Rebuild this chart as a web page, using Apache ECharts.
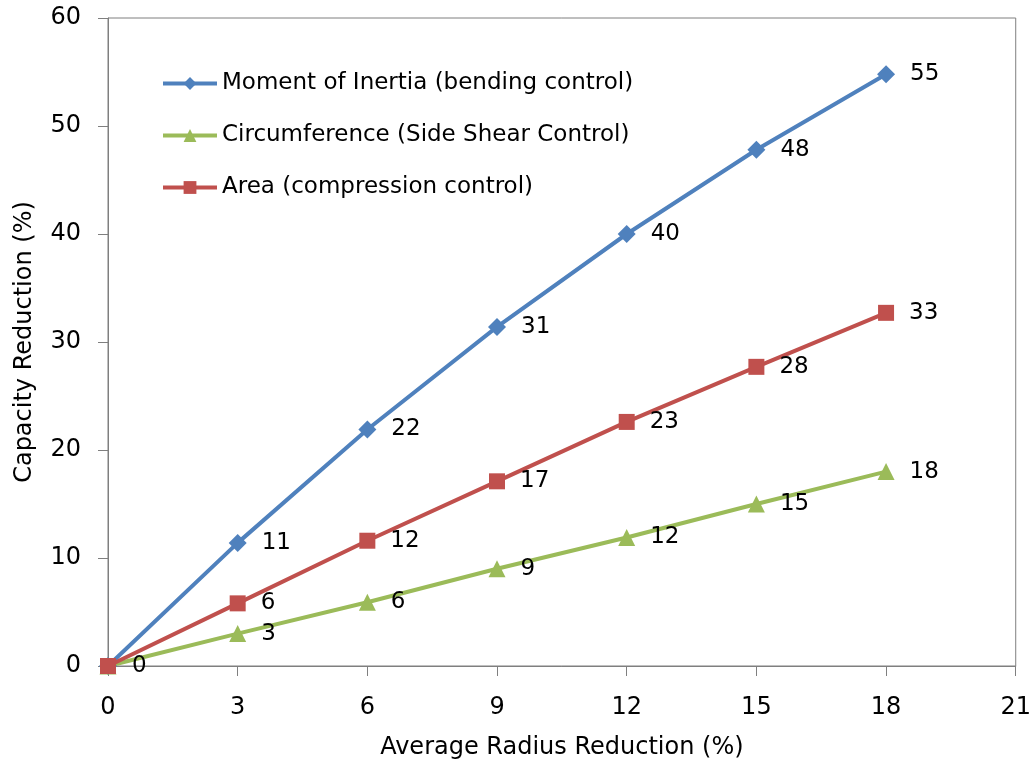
<!DOCTYPE html>
<html><head><meta charset="utf-8">
<script src="https://cdn.jsdelivr.net/npm/echarts@6/dist/echarts.min.js"></script>
<style>html,body{margin:0;padding:0;background:#fff}#c{width:1034px;height:765px}</style>
</head><body><div id="c"></div>
<script>
const xValues = [0, 3, 6, 9, 12, 15, 18];
const inertia = [0, 11.4, 21.9, 31.4, 40.0, 47.8, 54.8];
const circumference = [0, 3.0, 5.9, 9.0, 11.9, 15.0, 18.0];
const area = [0, 5.8, 11.6, 17.1, 22.6, 27.7, 32.7];
const seriesNames = ['Moment of Inertia (bending control)', 'Circumference (Side Shear Control)', 'Area (compression control)'];

const FONT = 'DejaVu Sans';
function pairs(ys){ return xValues.map((x,i)=>[x, ys[i]]); }
function mk(name, ys, color, symbol, size, labelAtZero){
  return {
    name, type:'line', data: pairs(ys), color,
    symbol, symbolSize: size,
    lineStyle:{width:4, color},
    itemStyle:{color},
    label:{show:true, position:'right', distance:15, color:'#000', fontFamily:FONT, fontSize:23,
      formatter: p => (p.value[0] === 0 && !labelAtZero) ? '' : String(Math.round(p.value[1]))},
    z: 3
  };
}
const chart = echarts.init(document.getElementById('c'));
chart.setOption({
  animation:false,
  textStyle:{fontFamily:FONT},
  grid:{left:108, right:18, top:18, bottom:98, show:true, borderColor:'#7f7f7f', borderWidth:1},
  legend:{
    orient:'vertical', left:156, top:67, itemWidth:54, itemHeight:16, itemGap:29,
    textStyle:{fontFamily:FONT, fontSize:23, color:'#000'},
    lineStyle:{width:4},
    data: seriesNames
  },
  xAxis:{type:'value', min:0, max:21, interval:3,
    name:'Average Radius Reduction (%)', nameLocation:'middle', nameGap:70,
    nameTextStyle:{fontFamily:FONT, fontSize:24, color:'#000'},
    axisLine:{lineStyle:{color:'#7f7f7f'}},
    axisTick:{show:true, length:10, lineStyle:{color:'#7f7f7f'}},
    axisLabel:{fontFamily:FONT, fontSize:24, color:'#000', margin:30},
    splitLine:{show:false}},
  yAxis:{type:'value', min:0, max:60, interval:10,
    name:'Capacity Reduction (%)', nameLocation:'middle', nameGap:71,
    nameTextStyle:{fontFamily:FONT, fontSize:24, color:'#000'},
    axisLine:{show:true, lineStyle:{color:'#7f7f7f'}},
    axisTick:{show:true, length:10, lineStyle:{color:'#7f7f7f'}},
    axisLabel:{fontFamily:FONT, fontSize:24, color:'#000', margin:27},
    splitLine:{show:false}},
  series:[
    mk(seriesNames[0], inertia, '#4F81BD', 'diamond', 18, true),
    mk(seriesNames[1], circumference, '#9BBB59', 'triangle', 17, false),
    mk(seriesNames[2], area, '#C0504D', 'rect', 16, false)
  ]
});
</script></body></html>
